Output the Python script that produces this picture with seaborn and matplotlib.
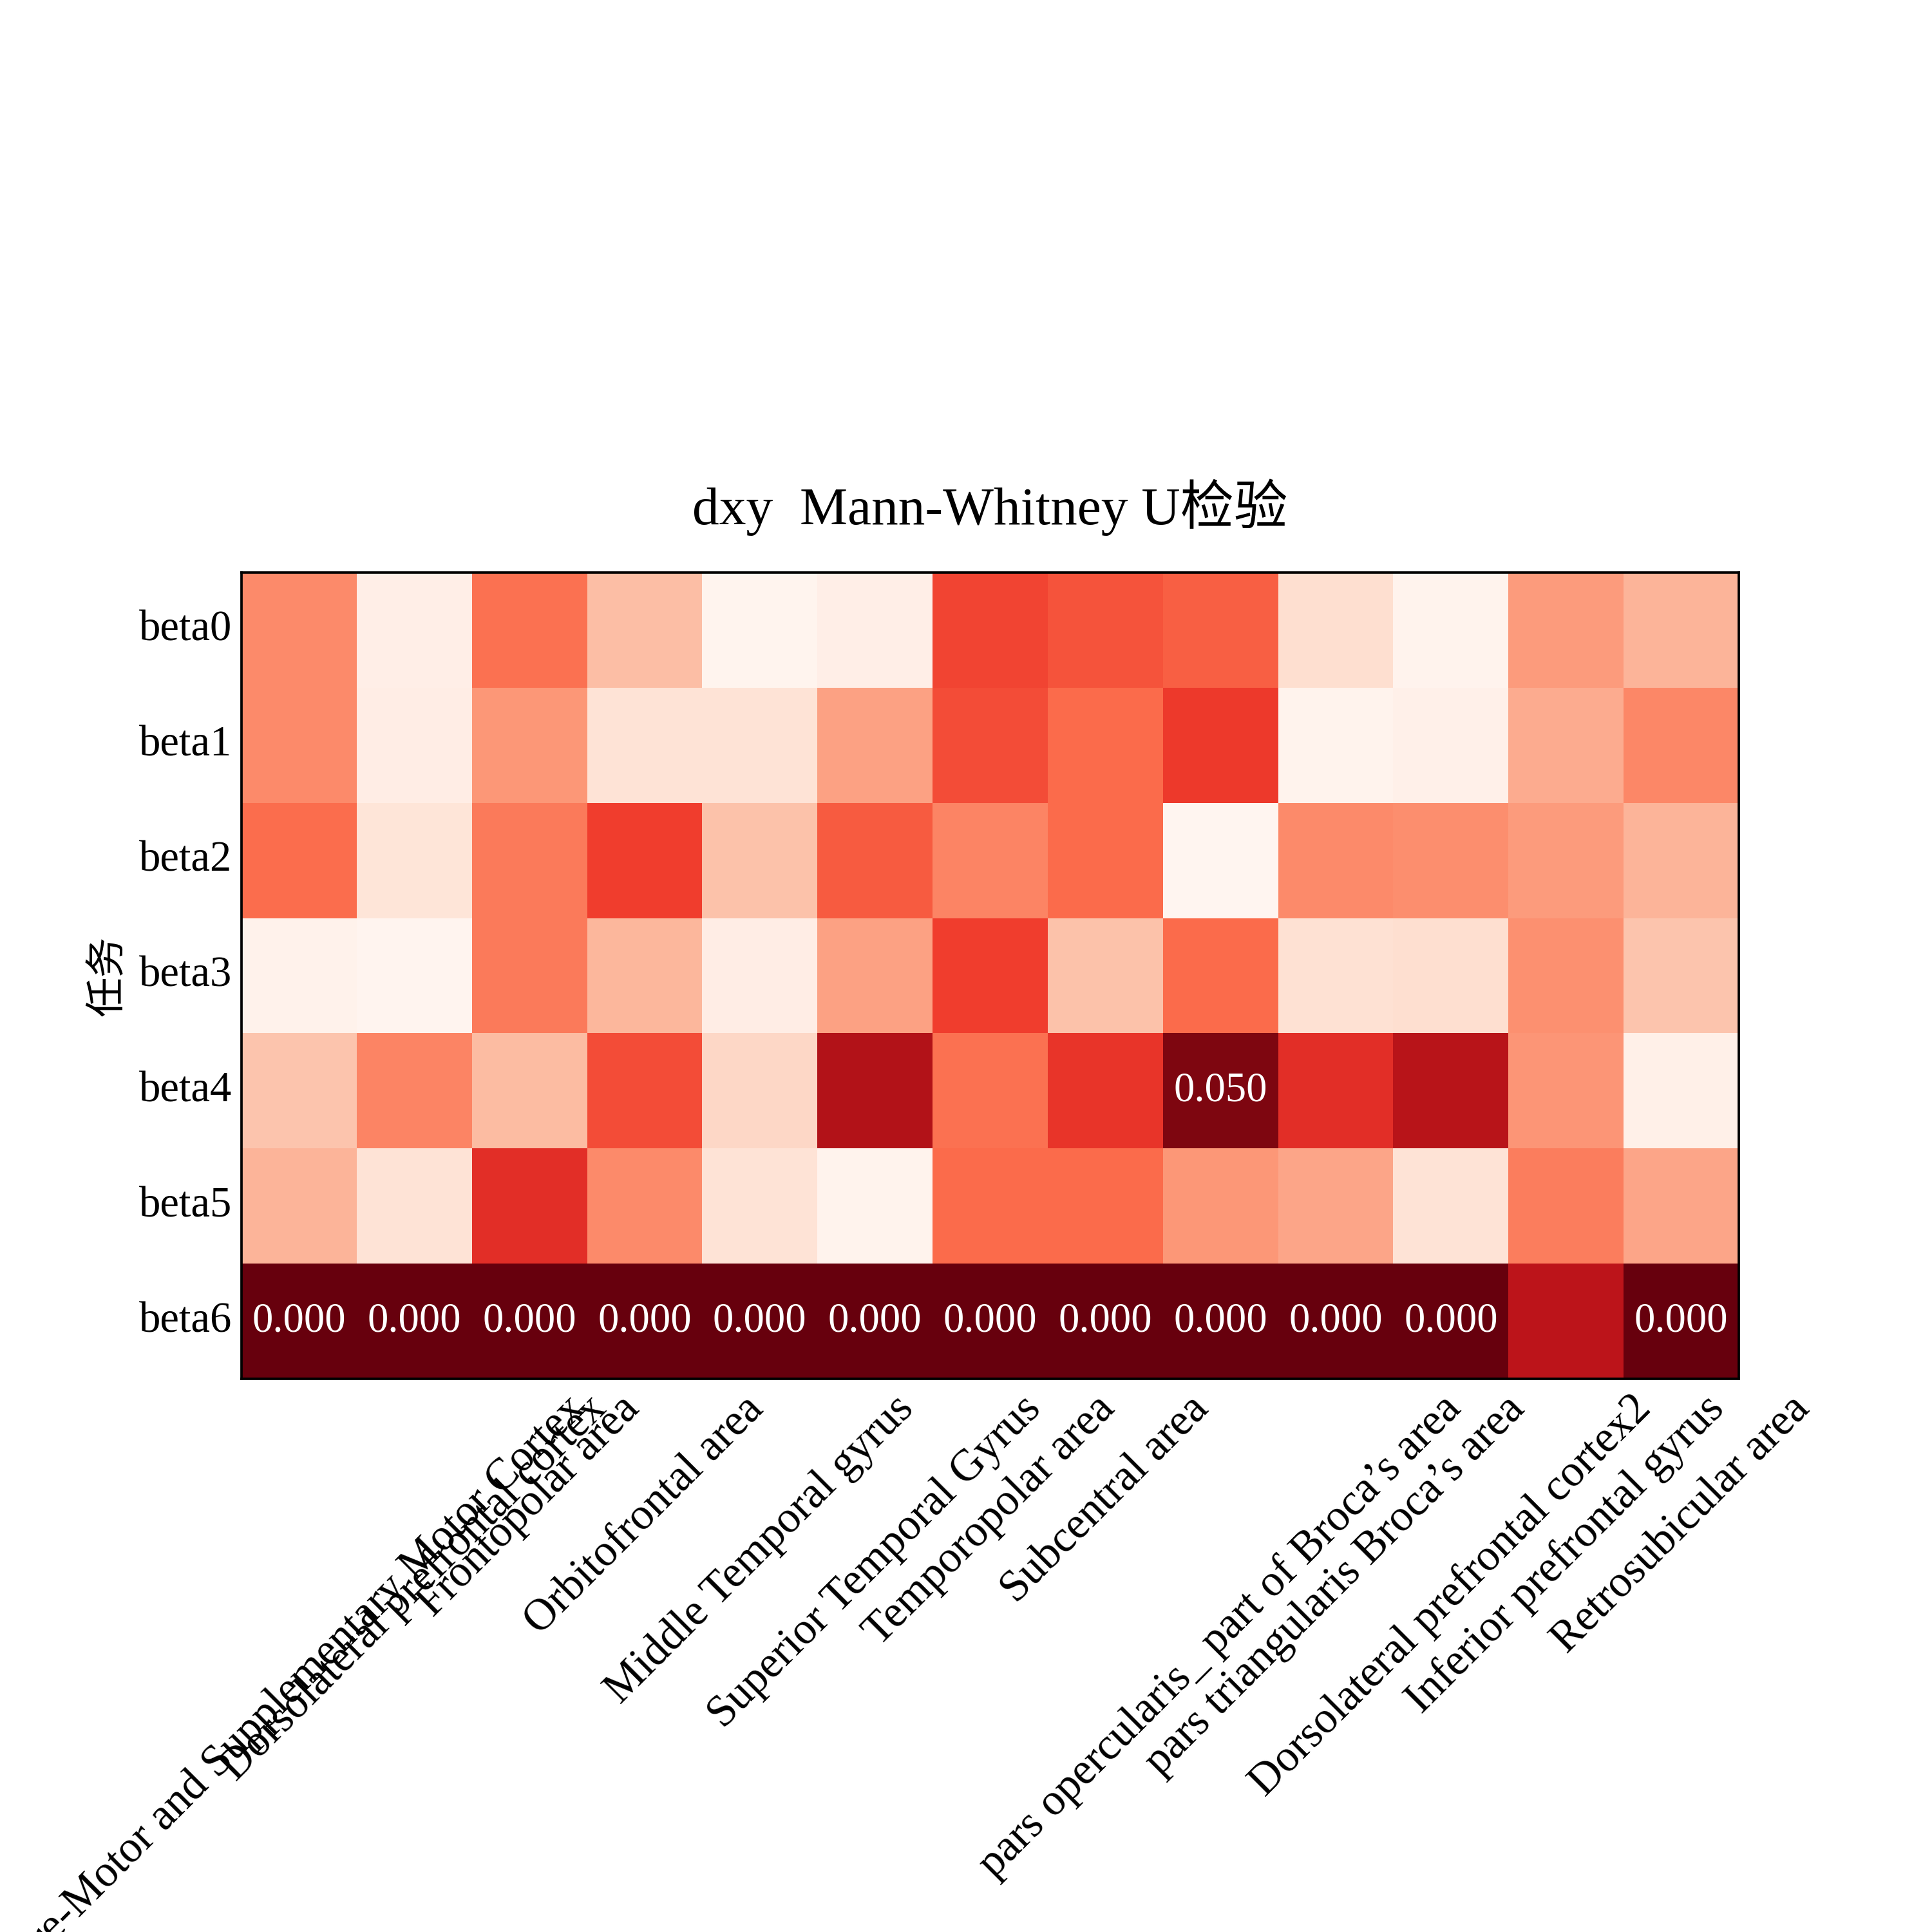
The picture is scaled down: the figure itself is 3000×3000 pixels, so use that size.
import numpy as np
import pandas as pd
import matplotlib
matplotlib.use("Agg")
import matplotlib.pyplot as plt
import seaborn as sns

plt.rcParams["font.family"] = ["Liberation Serif", "Noto Sans CJK SC", "DejaVu Sans"]
plt.rcParams["font.size"] = 15
plt.rcParams["axes.unicode_minus"] = False

# 脑区（列）
regions = [
    "Pre-Motor and Supplementary Motor Cortex",
    "Dorsolateral prefrontal cortex",
    "Frontopolar area",
    "Orbitofrontal area",
    "Middle Temporal gyrus",
    "Superior Temporal Gyrus",
    "Temporopolar area",
    "Subcentral area",
    "pars opercularis_ part of Broca’s area",
    "pars triangularis Broca’s area",
    "Dorsolateral prefrontal cortex2",
    "Inferior prefrontal gyrus",
    "Retrosubicular area",
]

# 任务（行）
tasks = ["beta0", "beta1", "beta2", "beta3", "beta4", "beta5", "beta6"]

# 每个任务的 p 值（从图中颜色估读）
p_beta0 = [0.60, 0.96, 0.52, 0.76, 0.99, 0.96, 0.40, 0.44, 0.47, 0.87, 0.985, 0.65, 0.73]
p_beta1 = [0.60, 0.95, 0.64, 0.89, 0.89, 0.67, 0.42, 0.50, 0.37, 0.985, 0.97, 0.70, 0.59]
p_beta2 = [0.51, 0.90, 0.55, 0.38, 0.77, 0.46, 0.58, 0.50, 0.998, 0.60, 0.61, 0.65, 0.73]
p_beta3 = [0.98, 0.995, 0.55, 0.735, 0.95, 0.67, 0.38, 0.77, 0.50, 0.875, 0.87, 0.62, 0.78]
p_beta4 = [0.78, 0.58, 0.75, 0.42, 0.84, 0.17, 0.52, 0.35, 0.050, 0.33, 0.19, 0.635, 0.965]
p_beta5 = [0.73, 0.89, 0.33, 0.60, 0.89, 0.985, 0.50, 0.50, 0.64, 0.68, 0.89, 0.56, 0.68]
p_beta6 = [0.000, 0.000, 0.000, 0.000, 0.000, 0.000, 0.000, 0.000, 0.000, 0.000, 0.000, 0.20, 0.000]

df = pd.DataFrame([p_beta0, p_beta1, p_beta2, p_beta3, p_beta4, p_beta5, p_beta6],
                  index=tasks, columns=regions)

# 只标注显著的格子
annot = np.where(df.values <= 0.05, np.vectorize(lambda v: f"{v:.3f}")(df.values), "")

fig, ax = plt.subplots(figsize=(10, 10), dpi=300)
sns.heatmap(df, cmap="Reds_r", vmin=0, vmax=1, annot=annot, fmt="",
            cbar=False, square=True, ax=ax,
            annot_kws={"fontsize": 15.5, "color": "white"})

for s in ax.spines.values():
    s.set_visible(True)
    s.set_color("black")
    s.set_linewidth(0.9)

ax.tick_params(length=0)
plt.setp(ax.get_xticklabels(), rotation=45, ha="center", fontsize=16.5)
plt.setp(ax.get_yticklabels(), rotation=0, fontsize=16)
ax.set_xlabel("")
ax.set_ylabel("任务", fontsize=15)
ax.set_title("dxy  Mann-Whitney U检验", fontsize=20, pad=18)

fig.savefig("out.png", dpi=300)
plt.close(fig)
